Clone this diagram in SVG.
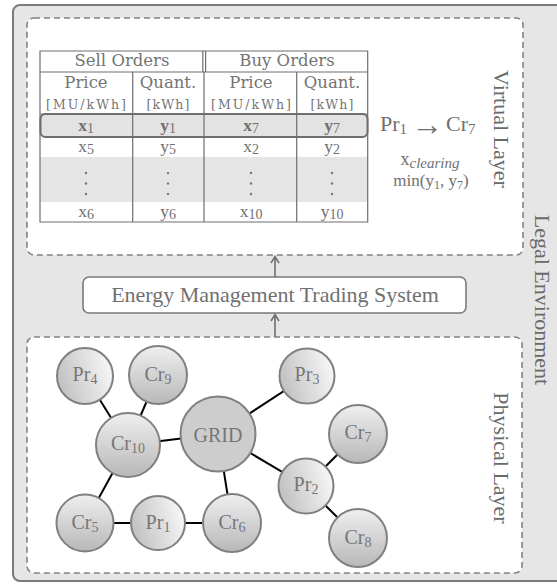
<svg xmlns="http://www.w3.org/2000/svg" width="557" height="585" viewBox="0 0 557 585">
  <defs>
    <style>
      text { font-family: "Liberation Serif", "Times New Roman", serif; fill: #707070; }
      .layer { fill: #ffffff; stroke: #828282; stroke-width: 1.6; stroke-dasharray: 6 4; }
      .grid-line { stroke: #6e6e6e; stroke-width: 1.2; fill: none; }
      .edge { stroke: #000000; stroke-width: 2; }
      .node { stroke: #808080; stroke-width: 2; }
      .pr { fill: url(#gPr); }
      .cr { fill: url(#gCr); }
      .lbl { font-size: 20px; text-anchor: middle; fill: #767676; }
      .sub { font-size: 14px; }
      .vert { font-size: 22px; text-anchor: middle; fill: #6a6a6a; }
      .flow { stroke: #707070; stroke-width: 1.6; fill: none; }
      .th { font-family: "DejaVu Serif", "Liberation Serif", serif; font-size: 16.5px; text-anchor: middle; fill: #747474; }
      .unit { font-family: "DejaVu Serif", "Liberation Serif", serif; font-size: 12.5px; text-anchor: middle; fill: #747474; }
      .cell { font-size: 17.5px; text-anchor: middle; }
    </style>
    <linearGradient id="gPr" x1="0" y1="0.65" x2="1" y2="0.35">
      <stop offset="0" stop-color="#bfbfbf"/>
      <stop offset="1" stop-color="#f8f8f8"/>
    </linearGradient>
    <linearGradient id="gCr" x1="0" y1="0" x2="0" y2="1">
      <stop offset="0" stop-color="#efefef"/>
      <stop offset="1" stop-color="#b8b8b8"/>
    </linearGradient>
  </defs>

  <!-- legal environment frame -->
  <rect id="legal" x="13" y="5" width="560" height="576" rx="7" fill="#e6e6e6" stroke="#7a7a7a" stroke-width="2"/>
  <text class="vert" transform="translate(535,300) rotate(90)">Legal Environment</text>

  <!-- virtual layer -->
  <g id="virtual-layer">
    <rect class="layer" x="27" y="18" width="496" height="237" rx="7"/>
    <text class="vert" transform="translate(494,129) rotate(90)">Virtual Layer</text>
  </g>

  <!-- order book -->
  <g id="order-book">
    <rect x="40" y="157" width="327.7" height="45" fill="#e5e5e5"/>
    <rect x="40.5" y="114" width="327" height="23" rx="5" fill="#e3e3e3" stroke="#6e6e6e" stroke-width="2"/>
    <path class="grid-line" d="M40,51 H367.7 V222 H40 Z M40,72 H367.7 M132.7,72 V222 M296.7,72 V222 M204,72 V222 M202.8,51 V72 M205.6,51 V72 M40,114 H367.7"/>
    <text class="th" x="122" y="66">Sell Orders</text>
    <text class="th" x="287" y="66">Buy Orders</text>
    <text class="th" x="86" y="88">Price</text>
    <text class="th" x="168" y="88">Quant.</text>
    <text class="th" x="251" y="88">Price</text>
    <text class="th" x="332" y="88">Quant.</text>
    <text class="unit" x="86" y="109" textLength="80" lengthAdjust="spacing">[MU/kWh]</text>
    <text class="unit" x="168" y="109" textLength="43" lengthAdjust="spacing">[kWh]</text>
    <text class="unit" x="251" y="109" textLength="80" lengthAdjust="spacing">[MU/kWh]</text>
    <text class="unit" x="332" y="109" textLength="43" lengthAdjust="spacing">[kWh]</text>

    <text class="cell" x="86" y="131" font-weight="bold">x<tspan class="sub" font-weight="normal" dy="2">1</tspan></text>
    <text class="cell" x="168" y="131" font-weight="bold">y<tspan class="sub" font-weight="normal" dy="2">1</tspan></text>
    <text class="cell" x="251" y="131" font-weight="bold">x<tspan class="sub" font-weight="normal" dy="2">7</tspan></text>
    <text class="cell" x="332" y="131" font-weight="bold">y<tspan class="sub" font-weight="normal" dy="2">7</tspan></text>

    <text class="cell" x="86" y="152">x<tspan class="sub" dy="2">5</tspan></text>
    <text class="cell" x="168" y="152">y<tspan class="sub" dy="2">5</tspan></text>
    <text class="cell" x="251" y="152">x<tspan class="sub" dy="2">2</tspan></text>
    <text class="cell" x="332" y="152">y<tspan class="sub" dy="2">2</tspan></text>

    <g fill="#777777">
      <circle cx="86" cy="173" r="1.2"/><circle cx="86" cy="183.5" r="1.2"/><circle cx="86" cy="194" r="1.2"/>
      <circle cx="168" cy="173" r="1.2"/><circle cx="168" cy="183.5" r="1.2"/><circle cx="168" cy="194" r="1.2"/>
      <circle cx="251" cy="173" r="1.2"/><circle cx="251" cy="183.5" r="1.2"/><circle cx="251" cy="194" r="1.2"/>
      <circle cx="332" cy="173" r="1.2"/><circle cx="332" cy="183.5" r="1.2"/><circle cx="332" cy="194" r="1.2"/>
    </g>

    <text class="cell" x="86" y="217">x<tspan class="sub" dy="2">6</tspan></text>
    <text class="cell" x="168" y="217">y<tspan class="sub" dy="2">6</tspan></text>
    <text class="cell" x="251" y="217">x<tspan class="sub" dy="2">10</tspan></text>
    <text class="cell" x="332" y="217">y<tspan class="sub" dy="2">10</tspan></text>
  </g>

  <!-- matched trade -->
  <g id="clearing">
    <text x="380" y="131" font-size="22" fill="#666666">Pr<tspan font-size="15" dy="3">1</tspan></text>
    <text x="427" y="135" font-size="32" text-anchor="middle" fill="#666666">→</text>
    <text x="446" y="131" font-size="22" fill="#666666">Cr<tspan font-size="15" dy="3">7</tspan></text>
    <text x="430" y="165" font-size="18" text-anchor="middle" fill="#7a7a7a">x<tspan font-size="15" font-style="italic" dy="3">clearing</tspan></text>
    <text x="431" y="186" font-size="17" text-anchor="middle" fill="#7a7a7a">min(y<tspan font-size="12" dy="3">1</tspan><tspan dy="-3">, y</tspan><tspan font-size="12" dy="3">7</tspan><tspan dy="-3">)</tspan></text>
  </g>

  <!-- trading system -->
  <g id="emts">
    <rect x="83" y="277" width="383" height="36" rx="6" fill="#ffffff" stroke="#7a7a7a" stroke-width="1.6"/>
    <text x="275" y="302" font-size="22" text-anchor="middle" fill="#666666">Energy Management Trading System</text>
  </g>

  <g id="flows">
    <path class="flow" d="M275,277 V256.5 M271,263 L275,256.5 L279,263"/>
    <path class="flow" d="M275,337 V314.5 M271,321 L275,314.5 L279,321"/>
  </g>

  <!-- physical layer -->
  <g id="physical-layer">
    <rect class="layer" x="27" y="337" width="495" height="236" rx="7"/>
    <text class="vert" transform="translate(494,458) rotate(90)">Physical Layer</text>
  </g>

  <g id="connectors">
    <line class="edge" x1="85" y1="376" x2="128" y2="445"/>
    <line class="edge" x1="158" y1="375" x2="128" y2="445"/>
    <line class="edge" x1="128" y1="445" x2="218" y2="434"/>
    <line class="edge" x1="128" y1="445" x2="85" y2="523"/>
    <line class="edge" x1="85" y1="523" x2="158" y2="523"/>
    <line class="edge" x1="158" y1="523" x2="232" y2="523"/>
    <line class="edge" x1="218" y1="434" x2="232" y2="523"/>
    <line class="edge" x1="218" y1="434" x2="307" y2="376"/>
    <line class="edge" x1="218" y1="434" x2="306" y2="486"/>
    <line class="edge" x1="306" y1="486" x2="358" y2="434"/>
    <line class="edge" x1="306" y1="486" x2="358" y2="538"/>
  </g>

  <g id="Pr4"><circle class="node pr" cx="85" cy="376" r="28"/><text class="lbl" x="85" y="381">Pr<tspan class="sub" dy="3">4</tspan></text></g>
  <g id="Cr9"><circle class="node cr" cx="158" cy="375" r="29"/><text class="lbl" x="158" y="381">Cr<tspan class="sub" dy="3">9</tspan></text></g>
  <g id="Pr3"><circle class="node pr" cx="307" cy="376" r="27.5"/><text class="lbl" x="307" y="381">Pr<tspan class="sub" dy="3">3</tspan></text></g>
  <g id="GRID"><circle class="node" cx="218" cy="434" r="37.5" fill="#cdcdcd"/><text class="lbl" x="218" y="441.5" font-size="21">GRID</text></g>
  <g id="Cr10"><circle class="node cr" cx="128" cy="445" r="32"/><text class="lbl" x="128" y="450">Cr<tspan class="sub" dy="3">10</tspan></text></g>
  <g id="Cr7"><circle class="node cr" cx="358" cy="434" r="29"/><text class="lbl" x="358" y="439">Cr<tspan class="sub" dy="3">7</tspan></text></g>
  <g id="Pr2"><circle class="node pr" cx="306" cy="486" r="27.5"/><text class="lbl" x="306" y="491">Pr<tspan class="sub" dy="3">2</tspan></text></g>
  <g id="Cr5"><circle class="node cr" cx="85" cy="523" r="28.5"/><text class="lbl" x="85" y="528.5">Cr<tspan class="sub" dy="3">5</tspan></text></g>
  <g id="Pr1"><circle class="node pr" cx="158" cy="523" r="27"/><text class="lbl" x="158" y="528.5">Pr<tspan class="sub" dy="3">1</tspan></text></g>
  <g id="Cr6"><circle class="node cr" cx="232" cy="523" r="29"/><text class="lbl" x="232" y="528.5">Cr<tspan class="sub" dy="3">6</tspan></text></g>
  <g id="Cr8"><circle class="node cr" cx="358" cy="538" r="29"/><text class="lbl" x="358" y="543.5">Cr<tspan class="sub" dy="3">8</tspan></text></g>
</svg>
